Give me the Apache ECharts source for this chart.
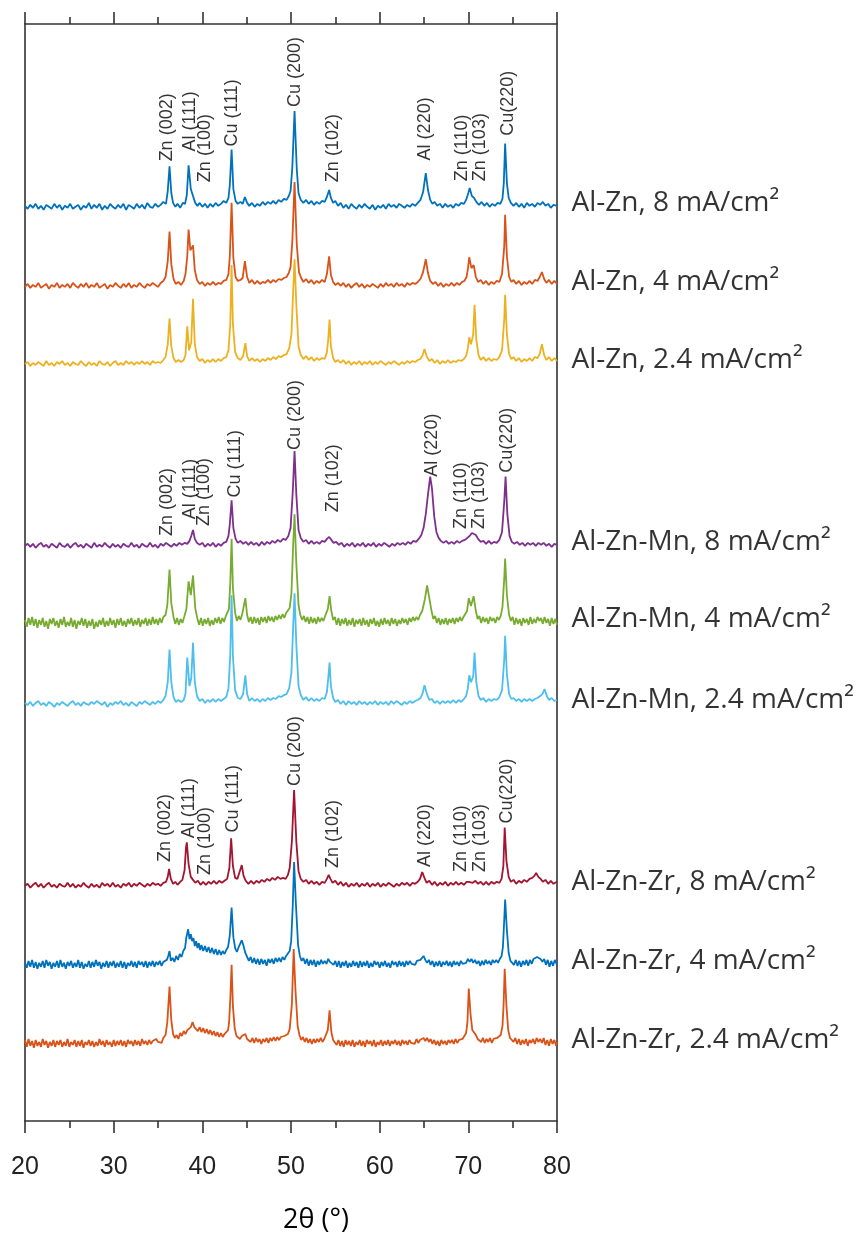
<!DOCTYPE html>
<html>
<head>
<meta charset="utf-8">
<script src="https://cdn.jsdelivr.net/npm/echarts@6/dist/echarts.min.js"></script>
<style>
html,body{margin:0;padding:0;background:#fff;}
#chart{width:866px;height:1239px;}
</style>
</head>
<body>
<div id="chart"></div>
<script>
// ---- data ----
const sampleNames = ['Al-Zn, 8 mA/cm²','Al-Zn, 4 mA/cm²','Al-Zn, 2.4 mA/cm²',
  'Al-Zn-Mn, 8 mA/cm²','Al-Zn-Mn, 4 mA/cm²','Al-Zn-Mn, 2.4 mA/cm²',
  'Al-Zn-Zr, 8 mA/cm²','Al-Zn-Zr, 4 mA/cm²','Al-Zn-Zr, 2.4 mA/cm²'];
const offsets = [925, 845, 766, 582, 504, 422, 238, 158, 78];
const colors = ['#0072BD','#D95319','#EDB120','#7E2F8E','#77AC30','#4DBEEE','#A2142F','#0072BD','#D95319'];
const xTicks = [20,30,40,50,60,70,80];

const alZn8 = [[20,1],[20.3,-2],[20.6,2],[20.9,-1],[21.2,3],[21.5,-2],[21.8,1],[22.1,-3],[22.4,2],[22.7,0],[23,-2],[23.3,3],[23.6,-1],[23.9,2],[24.2,-3],[24.5,1],[24.8,-1],[25.1,3],[25.4,-2],[25.7,0],[26,2],[26.3,-3],[26.6,1],[26.9,-1],[27.2,4],[27.5,-2],[27.8,2],[28.1,-1],[28.4,3],[28.7,-3],[29,1],[29.3,-2],[29.6,3],[29.9,0],[30.2,-2],[30.5,2],[30.8,-1],[31.1,3],[31.4,-3],[31.7,2],[32,0],[32.3,-2],[32.6,3],[32.9,-1],[33.2,2],[33.5,-2],[33.8,4],[34.1,0],[34.4,-1],[34.7,3],[35,0],[35.3,2],[35.6,5],[35.9,3],
[36.1,16],[36.3,41],[36.5,14],[36.7,4],[36.95,0],[37.2,3],[37.5,-1],[37.8,4],[38.05,3],
[38.25,12],[38.45,42],[38.7,18],[38.95,11],[39.2,4],[39.45,1],[39.7,4],[40,0],[40.3,3],[40.6,-1],[40.9,3],[41.2,0],[41.5,4],[41.8,1],[42.1,3],[42.4,6],[42.7,4],[42.95,9],
[43.1,22],[43.3,58],[43.5,18],[43.75,6],[44,3],[44.3,5],[44.55,3],[44.8,10],[45.05,4],[45.3,1],[45.6,4],[45.9,0],[46.2,3],[46.5,1],[46.8,5],[47.1,2],[47.4,5],[47.7,3],[48,6],[48.3,3],[48.6,7],[48.9,5],[49.2,8],[49.5,7],[49.75,11],[49.95,16],
[50.15,40],[50.4,97],[50.65,38],[50.85,14],[51.1,7],[51.4,4],[51.7,7],[52,3],[52.3,6],[52.6,2],[52.9,5],[53.2,3],[53.5,6],[53.8,5],
[54.05,10],[54.3,17],[54.5,9],[54.75,4],[55,6],[55.3,1],[55.6,4],[55.9,-1],[56.2,2],[56.5,-2],[56.8,3],[57.1,0],[57.4,-2],[57.7,2],[58,-1],[58.3,3],[58.6,0],[58.9,-2],[59.2,2],[59.5,-3],[59.8,1],[60.1,-1],[60.4,2],[60.7,-2],[61,3],[61.3,0],[61.6,2],[61.9,-1],[62.2,3],[62.5,1],[62.8,-1],[63.1,2],[63.4,0],[63.7,3],[64,1],[64.3,4],[64.6,7],
[64.9,15],[65.2,34],[65.45,17],[65.7,7],[65.95,3],[66.2,5],[66.5,1],[66.8,3],[67.1,-1],[67.4,3],[67.7,0],[68,2],[68.3,-1],[68.6,3],[68.9,1],[69.2,4],[69.5,3],[69.75,7],
[70,14],[70.15,19],[70.4,11],[70.65,9],[70.9,5],[71.2,2],[71.5,5],[71.8,1],[72.1,4],[72.4,0],[72.7,3],[73,1],[73.3,4],[73.6,3],[73.85,8],
[74,24],[74.15,64],[74.35,24],[74.55,9],[74.8,4],[75.1,1],[75.4,4],[75.7,0],[76,3],[76.3,-1],[76.6,4],[76.9,1],[77.2,3],[77.5,0],[77.8,4],[78.1,2],[78.4,5],[78.7,1],[79,3],[79.3,-1],[79.6,2],[80,1]];

const alZn4 = [[20,-1],[20.3,2],[20.6,-2],[20.9,1],[21.2,-1],[21.5,3],[21.8,-2],[22.1,0],[22.4,2],[22.7,-3],[23,1],[23.3,-1],[23.6,3],[23.9,-2],[24.2,1],[24.5,-1],[24.8,2],[25.1,-2],[25.4,3],[25.7,0],[26,-2],[26.3,2],[26.6,-1],[26.9,3],[27.2,-2],[27.5,1],[27.8,-1],[28.1,3],[28.4,-2],[28.7,0],[29,2],[29.3,-3],[29.6,1],[29.9,-1],[30.2,3],[30.5,0],[30.8,-2],[31.1,2],[31.4,-1],[31.7,3],[32,-2],[32.3,1],[32.6,-1],[32.9,3],[33.2,0],[33.5,-2],[33.8,2],[34.1,0],[34.4,3],[34.7,1],[35,-1],[35.3,3],[35.6,5],[35.85,9],
[36.1,25],[36.3,55],[36.5,22],[36.75,7],[37,2],[37.3,4],[37.6,1],[37.9,5],[38.1,12],
[38.3,30],[38.45,57],[38.65,36],[38.8,38],[38.95,41],[39.15,16],[39.4,6],[39.7,2],[40,4],[40.3,0],[40.6,3],[40.9,1],[41.2,4],[41.5,1],[41.8,3],[42.1,2],[42.4,5],[42.7,6],[42.95,12],
[43.1,30],[43.3,84],[43.5,28],[43.75,9],[44,5],[44.3,6],[44.55,8],[44.8,25],[45.05,9],[45.3,3],[45.6,6],[45.9,2],[46.2,5],[46.5,2],[46.8,4],[47.1,3],[47.4,6],[47.7,3],[48,6],[48.3,4],[48.6,7],[48.9,6],[49.2,8],[49.5,9],[49.75,13],[49.95,19],
[50.15,45],[50.4,105],[50.65,42],[50.9,14],[51.15,8],[51.4,4],[51.7,7],[52,3],[52.3,6],[52.6,2],[52.9,5],[53.2,3],[53.5,6],[53.8,4],
[54.05,12],[54.3,30],[54.5,11],[54.75,4],[55,1],[55.3,3],[55.6,0],[55.9,3],[56.2,-1],[56.5,2],[56.8,-2],[57.1,1],[57.4,3],[57.7,-1],[58,2],[58.3,-2],[58.6,1],[58.9,-1],[59.2,2],[59.5,0],[59.8,-2],[60.1,2],[60.4,-1],[60.7,3],[61,0],[61.3,2],[61.6,-1],[61.9,3],[62.2,0],[62.5,2],[62.8,-1],[63.1,3],[63.4,1],[63.7,3],[64,2],[64.3,4],[64.6,7],
[64.9,14],[65.2,27],[65.45,13],[65.7,5],[66,2],[66.3,4],[66.6,0],[66.9,3],[67.2,-1],[67.5,2],[67.8,0],[68.1,3],[68.4,0],[68.7,3],[69,1],[69.3,4],[69.55,5],[69.8,9],
[69.95,17],[70.1,29],[70.35,18],[70.6,21],[70.85,9],[71.1,4],[71.4,6],[71.7,2],[72,5],[72.3,1],[72.6,4],[72.9,2],[73.2,5],[73.5,4],[73.8,12],
[74.05,40],[74.15,72],[74.35,30],[74.6,9],[74.85,4],[75.1,6],[75.4,2],[75.7,5],[76,1],[76.3,4],[76.6,2],[76.9,5],[77.2,2],[77.5,6],[77.8,5],[78.05,9],[78.3,14],[78.55,7],[78.8,3],[79.1,6],[79.4,2],[79.7,5],[80,2]];

const alZn24 = [[20,0],[20.3,2],[20.6,-2],[20.9,1],[21.2,-1],[21.5,2],[21.8,0],[22.1,-2],[22.4,3],[22.7,-1],[23,1],[23.3,-2],[23.6,2],[23.9,0],[24.2,3],[24.5,-1],[24.8,1],[25.1,-2],[25.4,2],[25.7,0],[26,-1],[26.3,3],[26.6,0],[26.9,-2],[27.2,2],[27.5,-1],[27.8,1],[28.1,-2],[28.4,3],[28.7,0],[29,-1],[29.3,2],[29.6,-2],[29.9,1],[30.2,3],[30.5,-1],[30.8,1],[31.1,-1],[31.4,3],[31.7,0],[32,2],[32.3,-1],[32.6,2],[32.9,0],[33.2,3],[33.5,0],[33.8,2],[34.1,-1],[34.4,3],[34.7,1],[35,2],[35.3,1],[35.6,4],[35.85,7],
[36.1,20],[36.3,46],[36.5,18],[36.75,6],[37,2],[37.3,4],[37.6,2],[37.9,4],[38.1,9],
[38.3,38],[38.5,14],[38.75,22],[38.95,66],[39.15,20],[39.4,7],[39.7,3],[40,5],[40.3,1],[40.6,4],[40.9,2],[41.2,5],[41.5,2],[41.8,5],[42.1,3],[42.4,6],[42.7,7],[42.95,14],
[43.15,40],[43.3,100],[43.45,40],[43.7,12],[44,6],[44.3,4],[44.6,8],[44.85,21],[45.05,8],[45.3,3],[45.6,6],[45.9,3],[46.2,5],[46.5,2],[46.8,5],[47.1,3],[47.4,6],[47.7,4],[48,7],[48.3,5],[48.6,8],[48.9,7],[49.2,9],[49.5,10],[49.8,16],[50.05,30],
[50.25,75],[50.4,106],[50.6,60],[50.85,18],[51.1,9],[51.4,5],[51.7,8],[52,4],[52.3,7],[52.6,3],[52.9,6],[53.2,4],[53.5,6],[53.8,5],[54.05,12],
[54.2,25],[54.35,45],[54.5,18],[54.75,6],[55,2],[55.3,4],[55.6,1],[55.9,4],[56.2,0],[56.5,3],[56.8,-1],[57.1,2],[57.4,0],[57.7,3],[58,-1],[58.3,2],[58.6,0],[58.9,3],[59.2,-1],[59.5,2],[59.8,0],[60.1,3],[60.4,1],[60.7,-1],[61,2],[61.3,0],[61.6,3],[61.9,1],[62.2,-1],[62.5,2],[62.8,0],[63.1,3],[63.4,1],[63.7,3],[64,2],[64.3,4],[64.6,5],
[64.85,9],[65.05,15],[65.3,8],[65.6,3],[65.9,5],[66.2,1],[66.5,4],[66.8,0],[67.1,3],[67.4,1],[67.7,4],[68,1],[68.3,3],[68.6,2],[68.9,4],[69.2,3],[69.5,5],[69.75,8],
[69.95,16],[70.1,27],[70.3,20],[70.55,30],[70.7,60],[70.9,25],[71.15,9],[71.4,4],[71.7,7],[72,3],[72.3,6],[72.6,3],[72.9,5],[73.2,4],[73.5,7],[73.8,14],
[74.05,45],[74.15,70],[74.35,30],[74.6,10],[74.85,5],[75.1,7],[75.4,3],[75.7,6],[76,2],[76.3,5],[76.6,3],[76.9,6],[77.2,3],[77.5,7],[77.8,6],[78.05,10],[78.3,20],[78.55,9],[78.8,4],[79.1,7],[79.4,3],[79.7,6],[80,3]];

const mn8 = [[20,0],[20.3,2],[20.6,-1],[20.9,2],[21.2,-2],[21.5,1],[21.8,3],[22.1,-1],[22.4,1],[22.7,-2],[23,2],[23.3,0],[23.6,-2],[23.9,3],[24.2,0],[24.5,-1],[24.8,2],[25.1,-2],[25.4,1],[25.7,3],[26,-1],[26.3,1],[26.6,-2],[26.9,2],[27.2,0],[27.5,-2],[27.8,3],[28.1,-1],[28.4,1],[28.7,-1],[29,3],[29.3,0],[29.6,-2],[29.9,2],[30.2,-1],[30.5,1],[30.8,-2],[31.1,2],[31.4,0],[31.7,-1],[32,3],[32.3,-1],[32.6,1],[32.9,-2],[33.2,2],[33.5,0],[33.8,-1],[34.1,3],[34.4,-1],[34.7,1],[35,-2],[35.3,2],[35.6,0],[35.9,3],[36.2,1],[36.5,-1],[36.8,2],[37.1,0],[37.4,3],[37.7,1],[38,3],[38.3,2],[38.55,5],
[38.75,10],[38.95,16],[39.15,7],[39.4,3],[39.7,1],[40,3],[40.3,-1],[40.6,2],[40.9,0],[41.2,3],[41.5,-1],[41.8,2],[42.1,0],[42.4,3],[42.7,4],[42.95,10],
[43.1,22],[43.3,46],[43.5,18],[43.75,7],[44,3],[44.3,5],[44.6,2],[44.9,4],[45.2,1],[45.5,4],[45.8,1],[46.1,3],[46.4,0],[46.7,4],[47,1],[47.3,4],[47.6,2],[47.9,5],[48.2,3],[48.5,6],[48.8,4],[49.1,7],[49.4,6],[49.7,10],[49.95,18],
[50.2,55],[50.4,96],[50.6,52],[50.85,16],[51.1,8],[51.4,4],[51.7,6],[52,2],[52.3,5],[52.6,2],[52.9,4],[53.2,2],[53.5,5],[53.8,4],[54.05,7],[54.3,9],[54.55,6],[54.8,3],[55.1,4],[55.4,1],[55.7,3],[56,-1],[56.3,2],[56.6,0],[56.9,3],[57.2,-1],[57.5,2],[57.8,0],[58.1,3],[58.4,-1],[58.7,2],[59,0],[59.3,3],[59.6,-1],[59.9,2],[60.2,0],[60.5,3],[60.8,1],[61.1,-1],[61.4,2],[61.7,0],[62,3],[62.3,1],[62.6,3],[62.9,1],[63.2,4],[63.5,2],[63.8,5],[64.1,4],[64.4,7],[64.7,11],[64.95,18],
[65.2,32],[65.45,52],[65.7,70],[65.9,58],[66.15,30],[66.4,14],[66.65,8],[66.9,5],[67.2,3],[67.5,5],[67.8,2],[68.1,4],[68.4,2],[68.7,5],[69,3],[69.3,5],[69.6,6],[69.9,8],[70.15,10],[70.4,13],[70.6,15],[70.85,11],[71.1,7],[71.4,4],[71.7,5],[72,2],[72.3,5],[72.6,2],[72.9,4],[73.2,3],[73.5,6],[73.8,14],
[74.05,45],[74.2,70],[74.4,32],[74.65,10],[74.9,4],[75.2,2],[75.5,4],[75.8,1],[76.1,3],[76.4,0],[76.7,3],[77,1],[77.3,3],[77.6,0],[77.9,3],[78.2,1],[78.5,3],[78.8,0],[79.1,2],[79.4,-1],[79.7,2],[80,1]];

const mn4 = [[20,3],[20.2,-4],[20.4,5],[20.6,-2],[20.8,6],[21,-3],[21.2,4],[21.4,-5],[21.6,3],[21.8,-2],[22,5],[22.2,-4],[22.4,2],[22.6,-6],[22.8,4],[23,-1],[23.2,5],[23.4,-3],[23.6,2],[23.8,-5],[24,4],[24.2,-2],[24.4,6],[24.6,-4],[24.8,1],[25,-3],[25.2,5],[25.4,-4],[25.6,3],[25.8,-6],[26,2],[26.2,-2],[26.4,5],[26.6,-3],[26.8,4],[27,-5],[27.2,2],[27.4,-3],[27.6,4],[27.8,-6],[28,1],[28.2,-4],[28.4,3],[28.6,-2],[28.8,5],[29,-4],[29.2,2],[29.4,-3],[29.6,5],[29.8,-2],[30,3],[30.2,-5],[30.4,4],[30.6,-2],[30.8,5],[31,-3],[31.2,2],[31.4,-4],[31.6,4],[31.8,-1],[32,5],[32.2,-3],[32.4,3],[32.6,-2],[32.8,5],[33,-4],[33.2,3],[33.4,-1],[33.6,5],[33.8,-3],[34,4],[34.2,-2],[34.4,6],[34.6,-1],[34.8,4],[35,-2],[35.2,5],[35.4,0],[35.6,6],[35.85,8],
[36.05,18],[36.3,54],[36.5,20],[36.75,6],[36.95,-1],[37.15,5],[37.35,-2],[37.55,4],[37.75,0],[37.95,6],[38.2,14],
[38.45,42],[38.7,28],[38.95,48],[39.2,15],[39.45,4],[39.65,-2],[39.85,5],[40.05,-3],[40.25,4],[40.45,-1],[40.65,5],[40.85,-3],[41.05,3],[41.25,-2],[41.45,5],[41.65,0],[41.85,6],[42.05,-1],[42.25,5],[42.45,1],[42.65,7],[42.85,5],[43.0,14],
[43.15,40],[43.3,85],[43.45,35],[43.7,10],[43.9,2],[44.1,7],[44.3,3],[44.5,9],[44.68,11],[44.85,25],[45.05,8],[45.25,1],[45.45,6],[45.65,-1],[45.85,6],[46.05,0],[46.25,5],[46.45,-2],[46.65,6],[46.85,1],[47.05,6],[47.25,0],[47.45,7],[47.65,2],[47.85,6],[48.05,1],[48.25,7],[48.45,3],[48.65,8],[48.85,4],[49.05,9],[49.25,5],[49.45,10],[49.65,8],[49.85,15],[50.05,30],
[50.25,80],[50.4,110],[50.6,60],[50.85,18],[51.05,8],[51.25,3],[51.45,7],[51.65,1],[51.85,6],[52.05,-1],[52.25,6],[52.45,0],[52.65,5],[52.85,-1],[53.05,6],[53.25,1],[53.45,5],[53.65,2],[53.85,7],[54.0,6],[54.15,14],[54.35,27],[54.55,12],[54.75,3],[54.95,6],[55.15,-2],[55.35,5],[55.55,-3],[55.75,4],[55.95,-1],[56.15,5],[56.35,-3],[56.55,3],[56.75,-2],[56.95,5],[57.15,-4],[57.35,3],[57.55,-1],[57.75,4],[57.95,-3],[58.15,5],[58.35,-2],[58.55,3],[58.75,-4],[58.95,4],[59.15,-1],[59.35,5],[59.55,-3],[59.75,2],[59.95,-4],[60.15,4],[60.35,-2],[60.55,5],[60.75,-1],[60.95,3],[61.15,-3],[61.35,5],[61.55,-1],[61.75,4],[61.95,-3],[62.15,3],[62.35,-1],[62.55,5],[62.75,0],[62.95,4],[63.15,-2],[63.35,5],[63.55,1],[63.75,6],[63.95,2],[64.15,6],[64.35,3],[64.55,8],[64.8,12],
[65.1,24],[65.35,38],[65.6,25],[65.85,12],[66.05,4],[66.25,7],[66.45,0],[66.65,5],[66.85,-2],[67.05,4],[67.25,-1],[67.45,5],[67.65,-2],[67.85,4],[68.05,0],[68.25,5],[68.45,-1],[68.65,5],[68.85,1],[69.05,6],[69.25,2],[69.45,6],[69.65,5],[69.85,12],
[70.05,25],[70.3,17],[70.6,27],[70.85,12],[71.05,4],[71.25,7],[71.45,0],[71.65,6],[71.85,1],[72.05,5],[72.25,-1],[72.45,6],[72.65,2],[72.85,5],[73.05,0],[73.25,6],[73.45,3],[73.65,7],[73.85,16],
[74.05,45],[74.15,65],[74.35,28],[74.6,8],[74.8,2],[75,6],[75.2,-2],[75.4,5],[75.6,-1],[75.8,4],[76,-3],[76.2,5],[76.4,0],[76.6,4],[76.8,-2],[77,6],[77.2,-1],[77.4,4],[77.6,0],[77.8,6],[78,2],[78.2,5],[78.4,-1],[78.6,6],[78.8,0],[79,4],[79.2,-3],[79.4,5],[79.6,-1],[79.8,4],[80,-2]];

const mn24 = [[20,1],[20.3,-1],[20.6,2],[20.9,-2],[21.2,1],[21.5,3],[21.8,-1],[22.1,1],[22.4,-2],[22.7,2],[23,0],[23.3,-3],[23.6,1],[23.9,-1],[24.2,2],[24.5,0],[24.8,-2],[25.1,1],[25.4,3],[25.7,-1],[26,1],[26.3,-2],[26.6,2],[26.9,0],[27.2,-1],[27.5,2],[27.8,0],[28.1,3],[28.4,1],[28.7,-1],[29,2],[29.3,-3],[29.6,1],[29.9,-1],[30.2,2],[30.5,0],[30.8,3],[31.1,-1],[31.4,1],[31.7,-2],[32,2],[32.3,0],[32.6,-2],[32.9,2],[33.2,0],[33.5,3],[33.8,1],[34.1,-1],[34.4,2],[34.7,0],[35,3],[35.3,1],[35.6,4],[35.85,8],
[36.1,22],[36.3,55],[36.5,22],[36.75,7],[37,2],[37.3,4],[37.6,2],[37.9,4],[38.1,10],
[38.3,47],[38.55,18],[38.75,26],[38.95,62],[39.15,22],[39.4,8],[39.7,3],[40,5],[40.3,1],[40.6,4],[40.9,2],[41.2,5],[41.5,2],[41.8,5],[42.1,3],[42.4,5],[42.7,7],[42.95,16],
[43.15,50],[43.3,110],[43.45,48],[43.7,14],[44,6],[44.3,5],[44.6,10],[44.85,29],[45.05,10],[45.3,3],[45.6,6],[45.9,3],[46.2,5],[46.5,2],[46.8,5],[47.1,3],[47.4,6],[47.7,4],[48,6],[48.3,5],[48.6,8],[48.9,7],[49.2,9],[49.5,10],[49.8,16],[50.05,32],
[50.25,80],[50.4,112],[50.6,60],[50.85,18],[51.1,9],[51.4,4],[51.7,7],[52,3],[52.3,6],[52.6,3],[52.9,5],[53.2,3],[53.5,6],[53.8,5],[54.05,12],
[54.2,26],[54.35,42],[54.5,18],[54.75,6],[55,2],[55.3,4],[55.6,0],[55.9,3],[56.2,-1],[56.5,3],[56.8,0],[57.1,2],[57.4,-1],[57.7,3],[58,0],[58.3,2],[58.6,-1],[58.9,2],[59.2,0],[59.5,3],[59.8,-1],[60.1,2],[60.4,0],[60.7,2],[61,-1],[61.3,3],[61.6,0],[61.9,3],[62.2,1],[62.5,-1],[62.8,2],[63.1,0],[63.4,3],[63.7,1],[64,3],[64.3,4],[64.6,6],
[64.85,11],[65.05,19],[65.3,11],[65.6,4],[65.9,5],[66.2,1],[66.5,3],[66.8,0],[67.1,3],[67.4,1],[67.7,3],[68,1],[68.3,4],[68.6,1],[68.9,4],[69.2,2],[69.5,5],[69.75,8],
[69.95,16],[70.1,29],[70.3,22],[70.55,28],[70.7,52],[70.9,22],[71.15,8],[71.4,4],[71.7,6],[72,2],[72.3,5],[72.6,3],[72.9,5],[73.2,4],[73.5,7],[73.8,14],
[74.05,45],[74.15,69],[74.35,30],[74.6,10],[74.85,5],[75.1,6],[75.4,3],[75.7,5],[76,2],[76.3,5],[76.6,3],[76.9,5],[77.2,3],[77.5,5],[77.8,6],[78.1,8],[78.35,10],[78.6,15],[78.85,8],[79.1,4],[79.4,6],[79.7,3],[80,4]];

const zr8 = [[20,0],[20.3,2],[20.6,-2],[20.9,1],[21.2,3],[21.5,-1],[21.8,2],[22.1,-2],[22.4,1],[22.7,3],[23,-1],[23.3,1],[23.6,-2],[23.9,2],[24.2,0],[24.5,-1],[24.8,3],[25.1,-1],[25.4,2],[25.7,-2],[26,1],[26.3,-1],[26.6,3],[26.9,0],[27.2,-2],[27.5,2],[27.8,-1],[28.1,1],[28.4,-2],[28.7,3],[29,0],[29.3,2],[29.6,-1],[29.9,3],[30.2,-1],[30.5,1],[30.8,-2],[31.1,2],[31.4,0],[31.7,3],[32,-1],[32.3,2],[32.6,0],[32.9,3],[33.2,1],[33.5,-1],[33.8,2],[34.1,0],[34.4,3],[34.7,1],[35,2],[35.3,0],[35.6,3],[35.9,4],
[36.1,9],[36.25,17],[36.45,7],[36.7,2],[36.95,4],[37.2,1],[37.5,4],[37.75,6],[38,16],
[38.15,38],[38.25,44],[38.45,22],[38.7,9],[38.95,6],[39.2,3],[39.5,5],[39.8,1],[40.1,4],[40.4,1],[40.7,4],[41,2],[41.3,5],[41.6,2],[41.9,5],[42.2,3],[42.5,5],[42.8,7],[43.05,18],
[43.25,48],[43.45,20],[43.7,8],[43.95,7],[44.2,14],[44.45,21],[44.65,10],[44.9,5],[45.2,2],[45.5,5],[45.8,2],[46.1,5],[46.4,3],[46.7,6],[47,4],[47.3,7],[47.6,5],[47.9,8],[48.2,6],[48.5,9],[48.8,7],[49.1,8],[49.4,7],[49.65,11],[49.85,18],
[50.1,45],[50.35,97],[50.6,45],[50.85,15],[51.1,7],[51.4,4],[51.7,6],[52,2],[52.3,5],[52.6,2],[52.9,4],[53.2,1],[53.5,4],[53.8,3],[54.05,7],[54.25,11],[54.45,7],[54.7,3],[55,5],[55.3,1],[55.6,4],[55.9,0],[56.2,3],[56.5,-1],[56.8,2],[57.1,0],[57.4,3],[57.7,-1],[58,2],[58.3,0],[58.6,3],[58.9,-1],[59.2,2],[59.5,0],[59.8,3],[60.1,-1],[60.4,2],[60.7,0],[61,3],[61.3,1],[61.6,-1],[61.9,2],[62.2,0],[62.5,3],[62.8,1],[63.1,3],[63.4,0],[63.7,3],[64,2],[64.3,4],[64.55,7],
[64.8,14],[65.05,8],[65.3,3],[65.6,5],[65.9,1],[66.2,4],[66.5,0],[66.8,3],[67.1,1],[67.4,4],[67.7,0],[68,3],[68.3,1],[68.6,4],[68.9,1],[69.2,3],[69.5,1],[69.8,4],[70.05,4],[70.25,6],[70.5,3],[70.8,5],[71.1,2],[71.4,4],[71.7,1],[72,4],[72.3,1],[72.6,4],[72.9,2],[73.2,4],[73.5,3],[73.75,7],[73.95,20],
[74.1,59],[74.3,25],[74.55,9],[74.8,4],[75.1,6],[75.4,2],[75.7,5],[76,3],[76.3,6],[76.6,4],[76.9,7],[77.2,8],[77.45,10],[77.65,13],[77.9,9],[78.15,7],[78.4,4],[78.7,6],[79,2],[79.3,5],[79.6,2],[80,4]];

const zr4 = [[20,2],[20.2,-3],[20.4,4],[20.6,-2],[20.8,5],[21,-3],[21.2,3],[21.4,-4],[21.6,2],[21.8,-2],[22,4],[22.2,-3],[22.4,5],[22.6,-1],[22.8,3],[23,-4],[23.2,2],[23.4,-2],[23.6,4],[23.8,-3],[24,5],[24.2,-2],[24.4,2],[24.6,-4],[24.8,3],[25,-1],[25.2,4],[25.4,-3],[25.6,2],[25.8,-2],[26,5],[26.2,-3],[26.4,3],[26.6,-4],[26.8,1],[27,-2],[27.2,4],[27.4,-3],[27.6,3],[27.8,-2],[28,5],[28.2,-1],[28.4,3],[28.6,-4],[28.8,2],[29,-2],[29.2,4],[29.4,-3],[29.6,3],[29.8,-1],[30,4],[30.2,-3],[30.4,2],[30.6,-2],[30.8,4],[31,-3],[31.2,3],[31.4,-4],[31.6,2],[31.8,-1],[32,4],[32.2,-2],[32.4,3],[32.6,-3],[32.8,4],[33,0],[33.2,3],[33.4,-2],[33.6,4],[33.8,-3],[34,3],[34.2,-1],[34.4,4],[34.6,-2],[34.8,3],[35,0],[35.2,4],[35.4,-1],[35.6,3],[35.8,1],[36,5],
[36.15,9],[36.3,14],[36.45,4],[36.65,7],[36.85,3],[37.05,9],[37.25,5],[37.45,11],[37.65,8],[37.85,14],[38.05,17],[38.2,28],[38.4,36],[38.55,26],[38.7,31],[38.85,24],[39.0,27],[39.15,19],[39.3,24],[39.45,17],[39.6,22],[39.75,15],[39.9,20],[40.1,14],[40.3,19],[40.5,13],[40.7,18],[40.9,12],[41.1,17],[41.3,11],[41.5,16],[41.7,10],[41.9,15],[42.1,10],[42.3,14],[42.5,11],[42.7,15],[42.9,18],
[43.1,30],[43.3,58],[43.5,28],[43.7,17],[43.9,13],[44.1,18],[44.25,16],[44.45,25],[44.65,19],[44.85,12],[45.05,8],[45.25,4],[45.45,8],[45.65,2],[45.85,7],[46.05,1],[46.25,6],[46.45,0],[46.65,6],[46.85,1],[47.05,5],[47.25,-1],[47.45,6],[47.65,2],[47.85,6],[48.05,1],[48.25,7],[48.45,3],[48.65,7],[48.85,3],[49.05,8],[49.25,5],[49.45,9],[49.65,8],[49.85,14],[50.02,24],
[50.2,60],[50.35,104],[50.55,62],[50.8,20],[51,9],[51.2,4],[51.4,7],[51.6,1],[51.8,6],[52,-1],[52.2,5],[52.4,0],[52.6,5],[52.8,-2],[53,4],[53.2,0],[53.4,5],[53.6,1],[53.8,4],[54,1],[54.2,6],[54.4,3],[54.6,5],[54.8,0],[55,4],[55.2,-2],[55.4,4],[55.6,-3],[55.8,3],[56,-1],[56.2,4],[56.4,-3],[56.6,2],[56.8,-2],[57,4],[57.2,-1],[57.4,3],[57.6,-3],[57.8,4],[58,-2],[58.2,3],[58.4,-1],[58.6,4],[58.8,-3],[59,2],[59.2,-2],[59.4,4],[59.6,0],[59.8,3],[60,-3],[60.2,3],[60.4,-1],[60.6,4],[60.8,-2],[61,2],[61.2,-3],[61.4,4],[61.6,0],[61.8,3],[62,-2],[62.2,4],[62.4,-1],[62.6,3],[62.8,-2],[63,4],[63.2,0],[63.4,4],[63.6,1],[63.8,3],[64,0],[64.2,4],[64.4,2],[64.6,5],[64.8,7],[64.95,9],[65.15,5],[65.35,2],[65.55,5],[65.75,0],[65.95,4],[66.15,-2],[66.35,3],[66.55,-1],[66.75,4],[66.95,-2],[67.15,3],[67.35,0],[67.55,4],[67.75,-1],[67.95,3],[68.15,-2],[68.35,4],[68.55,0],[68.75,3],[68.95,-1],[69.15,4],[69.35,1],[69.55,3],[69.75,2],[69.95,6],[70.15,3],[70.35,6],[70.55,2],[70.75,5],[70.95,1],[71.15,4],[71.35,-1],[71.55,4],[71.75,0],[71.95,5],[72.15,1],[72.35,4],[72.55,0],[72.75,5],[72.95,2],[73.15,5],[73.35,2],[73.55,6],[73.75,9],[73.9,18],
[74.02,40],[74.15,66],[74.35,35],[74.55,12],[74.75,4],[74.95,6],[75.15,0],[75.35,5],[75.55,-1],[75.75,4],[75.95,-2],[76.15,4],[76.35,0],[76.55,5],[76.75,-1],[76.95,5],[77.15,1],[77.35,6],[77.55,4],[77.75,8],[77.95,10],[78.15,6],[78.35,3],[78.55,6],[78.75,0],[78.95,5],[79.15,-2],[79.35,4],[79.55,-1],[79.75,5],[80,0]];

const zr24 = [[20,4],[20.2,-3],[20.4,5],[20.6,-2],[20.8,3],[21,-4],[21.2,4],[21.4,-2],[21.6,2],[21.8,-3],[22,5],[22.2,-1],[22.4,3],[22.6,-4],[22.8,2],[23,-2],[23.2,4],[23.4,-3],[23.6,3],[23.8,-1],[24,4],[24.2,-3],[24.4,2],[24.6,-2],[24.8,5],[25,-3],[25.2,2],[25.4,-1],[25.6,4],[25.8,-3],[26,3],[26.2,-2],[26.4,4],[26.6,-4],[26.8,2],[27,-1],[27.2,4],[27.4,-2],[27.6,3],[27.8,-3],[28,2],[28.2,-2],[28.4,5],[28.6,-1],[28.8,3],[29,-3],[29.2,4],[29.4,-1],[29.6,2],[29.8,-3],[30,4],[30.2,-2],[30.4,3],[30.6,-1],[30.8,4],[31,-2],[31.2,3],[31.4,-3],[31.6,4],[31.8,0],[32,3],[32.2,-2],[32.4,4],[32.6,-1],[32.8,3],[33,-2],[33.2,5],[33.4,0],[33.6,3],[33.8,-1],[34,4],[34.2,0],[34.4,3],[34.6,1],[34.8,5],[35,2],[35.2,4],[35.4,1],[35.6,6],[35.85,9],
[36.05,22],[36.3,58],[36.5,24],[36.7,10],[36.9,6],[37.1,9],[37.3,5],[37.5,11],[37.7,8],[37.9,13],[38.1,10],[38.3,14],[38.5,12],[38.7,17],[38.9,22],[39.1,17],[39.3,19],[39.5,13],[39.7,17],[39.9,12],[40.1,16],[40.3,11],[40.5,15],[40.7,10],[40.9,14],[41.1,9],[41.3,13],[41.5,8],[41.7,12],[41.9,7],[42.1,11],[42.3,7],[42.5,10],[42.7,9],[42.9,14],[43.02,22],
[43.15,45],[43.3,80],[43.45,38],[43.65,16],[43.85,8],[44.05,10],[44.25,5],[44.45,8],[44.65,6],[44.85,10],[45.05,5],[45.25,7],[45.45,2],[45.65,6],[45.85,1],[46.05,6],[46.25,2],[46.45,5],[46.65,0],[46.85,5],[47.05,2],[47.25,6],[47.45,1],[47.65,6],[47.85,3],[48.05,7],[48.25,3],[48.45,7],[48.65,4],[48.85,7],[49.05,5],[49.25,8],[49.45,6],[49.65,10],[49.85,15],
[50.1,40],[50.3,96],[50.5,55],[50.75,18],[50.95,9],[51.15,4],[51.35,7],[51.55,2],[51.75,6],[51.95,1],[52.15,5],[52.35,0],[52.55,5],[52.75,1],[52.95,5],[53.15,2],[53.35,6],[53.55,2],[53.75,5],[53.95,5],[54.15,14],[54.35,34],[54.55,12],[54.75,4],[54.95,6],[55.15,-1],[55.35,4],[55.55,-2],[55.75,3],[55.95,-3],[56.15,4],[56.35,-1],[56.55,3],[56.75,-2],[56.95,4],[57.15,-3],[57.35,2],[57.55,-1],[57.75,4],[57.95,-2],[58.15,3],[58.35,-3],[58.55,4],[58.75,0],[58.95,3],[59.15,-2],[59.35,4],[59.55,-3],[59.75,2],[59.95,-1],[60.15,4],[60.35,-2],[60.55,3],[60.75,-1],[60.95,4],[61.15,-2],[61.35,3],[61.55,0],[61.75,4],[61.95,-1],[62.15,3],[62.35,-2],[62.55,4],[62.75,0],[62.95,3],[63.15,-1],[63.35,4],[63.55,1],[63.75,3],[63.95,0],[64.15,5],[64.35,1],[64.55,4],[64.75,2],[64.95,6],[65.15,3],[65.35,6],[65.55,2],[65.75,5],[65.95,0],[66.15,4],[66.35,-1],[66.55,3],[66.75,-2],[66.95,4],[67.15,0],[67.35,3],[67.55,-1],[67.75,4],[67.95,1],[68.15,4],[68.35,0],[68.55,5],[68.75,1],[68.95,4],[69.15,2],[69.35,5],[69.55,6],[69.75,11],
[69.9,22],[70.05,56],[70.25,30],[70.45,14],[70.65,12],[70.85,9],[71.05,5],[71.25,7],[71.45,2],[71.65,6],[71.85,1],[72.05,5],[72.25,2],[72.45,6],[72.65,1],[72.85,5],[73.05,3],[73.25,6],[73.45,4],[73.65,9],[73.85,18],[73.97,38],
[74.1,76],[74.3,38],[74.5,14],[74.7,6],[74.9,8],[75.1,2],[75.3,6],[75.5,0],[75.7,5],[75.9,-1],[76.1,4],[76.3,0],[76.5,5],[76.7,-2],[76.9,4],[77.1,1],[77.3,5],[77.5,0],[77.7,6],[77.9,2],[78.1,5],[78.3,1],[78.5,6],[78.7,-1],[78.9,4],[79.1,-2],[79.3,5],[79.5,0],[79.7,4],[79.9,-2],[80,2]];

const traces = [alZn8, alZn4, alZn24, mn8, mn4, mn24, zr8, zr4, zr24];

// peak annotations (text, 2θ position, height above the trace baseline)
const peakNames = ['Zn (002)','Al (111)','Zn (100)','Cu (111)','Cu (200)','Zn (102)','Al (220)','Zn (110)','Zn (103)','Cu(220)'];
const peakPosAlZn = [36.06, 38.59, 40.34, 43.38, 50.48, 54.76, 65.13, 69.30, 71.32, 74.48];
const peakHAlZn   = [46, 56, 25, 61, 101, 25, 47, 26, 26, 72];
const peakPosMn   = [36.06, 38.59, 40.17, 43.66, 50.48, 54.70, 65.86, 69.18, 71.21, 74.42];
const peakHMn     = [10, 27, 20, 49, 97, 34, 70, 17, 17, 74];
const peakPosZr   = [35.77, 38.48, 40.28, 43.44, 50.42, 54.70, 65.07, 69.13, 71.27, 74.37];
const peakHZr     = [24, 48, 11, 54, 101, 18, 19, 14, 14, 63];
const annotGroups = [[peakPosAlZn, peakHAlZn, 0], [peakPosMn, peakHMn, 3], [peakPosZr, peakHZr, 6]];

// ---- chart ----
const chart = echarts.init(document.getElementById('chart'), null, {renderer: 'canvas'});

const series = traces.map((t, i) => ({
  type: 'line',
  data: t.map(p => [p[0], p[1] + offsets[i]]),
  showSymbol: false,
  symbol: 'none',
  smooth: false,
  sampling: null,
  clip: true,
  lineStyle: {color: colors[i], width: 1.8},
  itemStyle: {color: colors[i]},
  silent: true,
  z: 2
}));

const annotData = [];
annotGroups.forEach(g => {
  g[0].forEach((x, k) => {
    annotData.push({value: [x, offsets[g[2]] + g[1][k]], name: peakNames[k]});
  });
});
series.push({
  type: 'scatter',
  data: annotData,
  symbolSize: 1,
  itemStyle: {color: 'rgba(0,0,0,0)'},
  clip: false,
  silent: true,
  z: 5,
  label: {
    show: true,
    position: 'inside',
    rotate: 90,
    align: 'left',
    verticalAlign: 'middle',
    formatter: p => p.name,
    fontFamily: 'Liberation Sans, Arial, sans-serif',
    fontSize: 18,
    color: '#000'
  }
});

series.push({
  type: 'scatter',
  data: sampleNames.map((n, i) => ({value: [80, offsets[i]], name: n})),
  symbolSize: 1,
  itemStyle: {color: 'rgba(0,0,0,0)'},
  clip: false,
  silent: true,
  z: 5,
  label: {
    show: true,
    position: 'right',
    distance: 14,
    offset: [0, -4],
    formatter: p => p.name,
    fontFamily: 'Open Sans, Noto Sans, sans-serif',
    fontSize: 28,
    color: '#000'
  }
});

const axisCommon = {
  type: 'value', min: 20, max: 80, interval: 10,
  axisLine: {show: true, onZero: false, lineStyle: {color: '#333', width: 1.6}},
  axisTick: {show: true, inside: false, length: 12, lineStyle: {color: '#333', width: 1.6}},
  minorTick: {show: true, splitNumber: 2, length: 7, lineStyle: {color: '#333', width: 1.6}},
  splitLine: {show: false},
  minorSplitLine: {show: false}
};

chart.setOption({
  animation: false,
  backgroundColor: '#fff',
  grid: {left: 25, right: 309, top: 24, bottom: 105, containLabel: false},
  xAxis: [
    Object.assign({}, axisCommon, {
      position: 'bottom',
      axisLabel: {show: true, margin: 34, fontSize: 25, color: '#222', fontFamily: 'Liberation Sans, Arial, sans-serif',
        formatter: v => xTicks.indexOf(v) >= 0 ? String(v) : ''},
      name: '2θ (°)',
      nameLocation: 'middle',
      nameGap: 86,
      nameTextStyle: {fontSize: 27, color: '#000', fontFamily: 'Open Sans, Noto Sans, sans-serif', padding: [0, 0, 0, 50]}
    }),
    Object.assign({}, axisCommon, {position: 'top', axisLabel: {show: false}})
  ],
  yAxis: [
    {type: 'value', min: 0, max: 1110, position: 'left',
     axisLine: {show: true, onZero: false, lineStyle: {color: '#333', width: 1.6}},
     axisTick: {show: false}, axisLabel: {show: false}, splitLine: {show: false}},
    {type: 'value', min: 0, max: 1110, position: 'right',
     axisLine: {show: true, onZero: false, lineStyle: {color: '#333', width: 1.6}},
     axisTick: {show: false}, axisLabel: {show: false}, splitLine: {show: false}}
  ],
  series: series
});
</script>
</body>
</html>
